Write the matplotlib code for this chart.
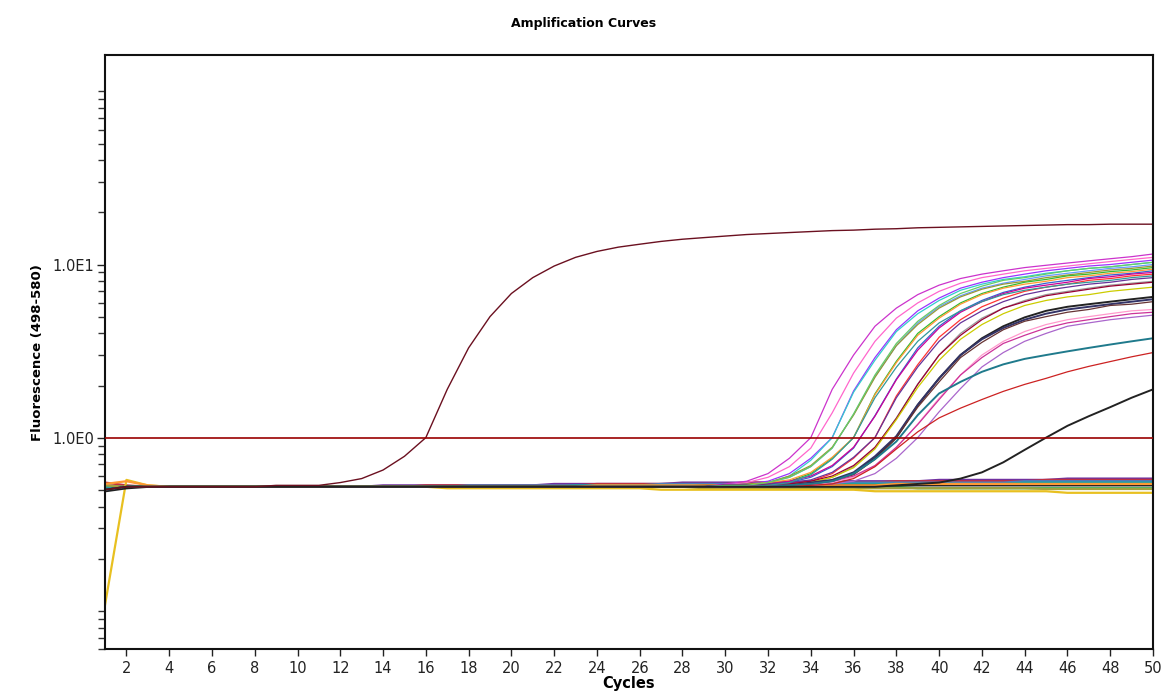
import matplotlib
matplotlib.use("Agg")
import matplotlib.pyplot as plt
from matplotlib.ticker import FixedLocator, FixedFormatter, NullFormatter

# cycle numbers
cycles = list(range(1, 51))

# shared flat baseline (cycles 1-29) of the positive samples
base_early = [0.50, 0.52, 0.52, 0.52, 0.52, 0.52, 0.52, 0.52, 0.52, 0.52,
              0.52, 0.52, 0.52, 0.52, 0.52, 0.52, 0.52, 0.52, 0.52, 0.52,
              0.52, 0.52, 0.52, 0.52, 0.52, 0.52, 0.52, 0.52, 0.52]

# positive samples, cycles 30-50
pos_a = [0.54, 0.56, 0.62, 0.76, 1.0, 1.9, 3.0, 4.4, 5.6, 6.7, 7.6, 8.3, 8.8, 9.2, 9.6, 9.9, 10.2, 10.5, 10.8, 11.1, 11.5]
pos_b = [0.53, 0.55, 0.59, 0.68, 0.87, 1.39, 2.36, 3.6, 4.9, 6.0, 7.0, 7.8, 8.4, 8.8, 9.2, 9.5, 9.8, 10.1, 10.4, 10.7, 11.0]
pos_c = [0.53, 0.54, 0.56, 0.62, 0.76, 1.0, 1.86, 2.9, 4.2, 5.4, 6.4, 7.3, 7.9, 8.4, 8.8, 9.2, 9.5, 9.8, 10.0, 10.3, 10.6]
pos_d = [0.52, 0.53, 0.55, 0.60, 0.74, 1.0, 1.83, 2.8, 4.1, 5.2, 6.2, 7.1, 7.7, 8.2, 8.5, 8.9, 9.2, 9.5, 9.7, 10.0, 10.3]
pos_e = [0.52, 0.53, 0.55, 0.59, 0.68, 0.87, 1.36, 2.26, 3.4, 4.6, 5.7, 6.6, 7.3, 7.8, 8.2, 8.6, 8.9, 9.2, 9.5, 9.7, 10.0]
pos_f = [0.53, 0.54, 0.55, 0.60, 0.69, 0.88, 1.35, 2.23, 3.4, 4.5, 5.6, 6.5, 7.2, 7.7, 8.0, 8.4, 8.7, 9.0, 9.3, 9.5, 9.8]
pos_g = [0.52, 0.53, 0.54, 0.56, 0.62, 0.76, 1.0, 1.79, 2.76, 4.0, 5.0, 6.0, 6.8, 7.4, 7.9, 8.2, 8.6, 8.8, 9.1, 9.3, 9.6]
pos_h = [0.53, 0.53, 0.55, 0.57, 0.63, 0.77, 1.0, 1.77, 2.71, 3.9, 4.9, 5.9, 6.7, 7.3, 7.7, 8.0, 8.4, 8.6, 8.9, 9.1, 9.4]
pos_i = [0.52, 0.52, 0.53, 0.55, 0.59, 0.68, 0.87, 1.34, 2.18, 3.3, 4.4, 5.4, 6.2, 6.9, 7.4, 7.8, 8.1, 8.4, 8.7, 8.9, 9.2]
pos_j = [0.53, 0.53, 0.54, 0.56, 0.60, 0.69, 0.88, 1.33, 2.16, 3.2, 4.3, 5.3, 6.1, 6.8, 7.3, 7.6, 7.9, 8.3, 8.5, 8.8, 9.0]
pos_k = [0.52, 0.52, 0.53, 0.54, 0.56, 0.62, 0.76, 1.0, 1.74, 2.64, 3.8, 4.8, 5.7, 6.4, 7.0, 7.4, 7.7, 8.1, 8.3, 8.6, 8.8]
pos_l = [0.53, 0.53, 0.54, 0.55, 0.57, 0.63, 0.77, 1.0, 1.70, 2.56, 3.6, 4.6, 5.4, 6.1, 6.7, 7.1, 7.4, 7.7, 7.9, 8.2, 8.4]
pos_m = [0.52, 0.52, 0.52, 0.53, 0.55, 0.59, 0.68, 0.87, 1.3, 2.04, 3.0, 4.0, 4.9, 5.6, 6.2, 6.7, 7.0, 7.3, 7.6, 7.8, 8.0]
pos_n = [0.53, 0.53, 0.53, 0.54, 0.56, 0.60, 0.69, 0.88, 1.29, 2.03, 3.0, 3.9, 4.8, 5.6, 6.1, 6.6, 6.9, 7.2, 7.5, 7.7, 7.9]
pos_o = [0.52, 0.52, 0.53, 0.53, 0.55, 0.59, 0.67, 0.86, 1.27, 1.95, 2.8, 3.7, 4.5, 5.2, 5.8, 6.2, 6.5, 6.7, 7.0, 7.2, 7.4]
pos_p = [0.52, 0.52, 0.52, 0.53, 0.54, 0.56, 0.62, 0.76, 1.0, 1.54, 2.2, 3.0, 3.75, 4.4, 4.95, 5.4, 5.7, 5.9, 6.1, 6.3, 6.5]
pos_q = [0.53, 0.53, 0.53, 0.53, 0.55, 0.57, 0.63, 0.78, 1.02, 1.55, 2.2, 3.0, 3.7, 4.3, 4.8, 5.2, 5.5, 5.7, 5.9, 6.1, 6.3]
pos_r = [0.52, 0.52, 0.52, 0.52, 0.54, 0.56, 0.61, 0.75, 1.0, 1.5, 2.1, 2.9, 3.55, 4.2, 4.7, 5.0, 5.3, 5.5, 5.8, 5.9, 6.1]
pos_s = [0.52, 0.52, 0.52, 0.52, 0.53, 0.55, 0.59, 0.68, 0.87, 1.2, 1.69, 2.3, 3.0, 3.6, 4.1, 4.5, 4.8, 5.0, 5.2, 5.4, 5.5]
pos_t = [0.53, 0.53, 0.53, 0.53, 0.54, 0.56, 0.60, 0.69, 0.88, 1.19, 1.66, 2.3, 2.9, 3.5, 3.9, 4.3, 4.6, 4.8, 5.0, 5.2, 5.3]
pos_u = [0.52, 0.52, 0.52, 0.52, 0.53, 0.54, 0.56, 0.62, 0.76, 1.0, 1.41, 1.92, 2.56, 3.1, 3.6, 4.0, 4.4, 4.6, 4.8, 4.95, 5.1]
pos_v = [0.52, 0.52, 0.53, 0.55, 0.61, 0.75, 1.0, 1.7, 2.55, 3.6, 4.6, 5.4, 6.1, 6.7, 7.1, 7.4, 7.7, 7.9, 8.1, 8.4, 8.6]
pos_w = [0.53, 0.53, 0.55, 0.59, 0.68, 0.87, 1.37, 2.3, 3.5, 4.7, 5.8, 6.8, 7.5, 8.1, 8.4, 8.8, 9.2, 9.5, 9.7, 10.0, 10.3]
pos_x = [0.52, 0.52, 0.52, 0.53, 0.54, 0.56, 0.62, 0.75, 0.95, 1.35, 1.8, 2.1, 2.4, 2.65, 2.85, 3.0, 3.15, 3.3, 3.45, 3.6, 3.75]
pos_y = [0.52, 0.52, 0.52, 0.52, 0.53, 0.54, 0.58, 0.68, 0.86, 1.08, 1.3, 1.48, 1.66, 1.85, 2.03, 2.2, 2.4, 2.58, 2.75, 2.93, 3.1]
pos_z = [0.52, 0.52, 0.52, 0.52, 0.52, 0.52, 0.52, 0.52, 0.53, 0.54, 0.55, 0.58, 0.63, 0.72, 0.85, 1.0, 1.17, 1.33, 1.5, 1.7, 1.9]

pos_colors = ['#cc33cc', '#ff66cc', '#9933ff', '#33cccc', '#6699ff', '#999933', '#33bb33',
              '#ff9933', '#3366cc', '#cc0099', '#ff3333', '#663399', '#999999', '#990033',
              '#cccc00', '#222222', '#333366', '#663333', '#ff99cc', '#cc3399', '#aa66cc',
              '#339999', '#66cc66', '#1f7a8c', '#cc2222', '#222222']

# early strong positive, cycles 1-50
early = [0.50, 0.52, 0.52, 0.52, 0.52, 0.52, 0.52, 0.52, 0.53, 0.53,
         0.53, 0.55, 0.58, 0.65, 0.78, 1.0, 1.9, 3.3, 5.0, 6.8,
         8.4, 9.8, 11.0, 11.9, 12.6, 13.1, 13.6, 14.0, 14.3, 14.6,
         14.9, 15.1, 15.3, 15.5, 15.7, 15.8, 16.0, 16.1, 16.3, 16.4,
         16.5, 16.6, 16.7, 16.8, 16.9, 17.0, 17.0, 17.1, 17.1, 17.1]

# negatives, cycles 1-50
neg_purple = [0.53, 0.52, 0.52, 0.52, 0.52, 0.52, 0.52, 0.52, 0.52, 0.52,
              0.52, 0.52, 0.52, 0.53, 0.53, 0.53, 0.53, 0.53, 0.53, 0.53,
              0.53, 0.54, 0.54, 0.54, 0.54, 0.54, 0.54, 0.55, 0.55, 0.55,
              0.55, 0.55, 0.55, 0.56, 0.56, 0.56, 0.56, 0.56, 0.56, 0.57,
              0.57, 0.57, 0.57, 0.57, 0.57, 0.58, 0.58, 0.58, 0.58, 0.58]
neg_red = [0.55, 0.53, 0.52, 0.52, 0.52, 0.52, 0.52, 0.52, 0.52, 0.52,
           0.52, 0.52, 0.52, 0.52, 0.52, 0.53, 0.53, 0.53, 0.53, 0.53,
           0.53, 0.53, 0.53, 0.54, 0.54, 0.54, 0.54, 0.54, 0.54, 0.54,
           0.55, 0.55, 0.55, 0.55, 0.55, 0.55, 0.55, 0.56, 0.56, 0.56,
           0.56, 0.56, 0.56, 0.56, 0.57, 0.57, 0.57, 0.57, 0.57, 0.57]
neg_blue = [0.51, 0.52, 0.52, 0.52, 0.52, 0.52, 0.52, 0.52, 0.52, 0.52,
            0.52, 0.52, 0.52, 0.52, 0.52, 0.52, 0.52, 0.53, 0.53, 0.53,
            0.53, 0.53, 0.53, 0.53, 0.53, 0.53, 0.54, 0.54, 0.54, 0.54,
            0.54, 0.54, 0.54, 0.54, 0.55, 0.55, 0.55, 0.55, 0.55, 0.55,
            0.55, 0.55, 0.55, 0.56, 0.56, 0.56, 0.56, 0.56, 0.56, 0.56]
neg_teal = [0.52, 0.52, 0.52, 0.52, 0.52, 0.52, 0.52, 0.52, 0.52, 0.52,
            0.52, 0.52, 0.52, 0.52, 0.52, 0.52, 0.52, 0.52, 0.52, 0.52,
            0.52, 0.52, 0.53, 0.53, 0.53, 0.53, 0.53, 0.53, 0.53, 0.53,
            0.53, 0.53, 0.54, 0.54, 0.54, 0.54, 0.54, 0.54, 0.54, 0.54,
            0.54, 0.54, 0.54, 0.55, 0.55, 0.55, 0.55, 0.55, 0.55, 0.55]
neg_green = [0.50, 0.52, 0.52, 0.52, 0.52, 0.52, 0.52, 0.52, 0.52, 0.52,
             0.52, 0.52, 0.52, 0.52, 0.52, 0.52, 0.52, 0.52, 0.52, 0.52,
             0.52, 0.52, 0.52, 0.52, 0.52, 0.52, 0.52, 0.52, 0.52, 0.52,
             0.52, 0.52, 0.52, 0.52, 0.52, 0.52, 0.52, 0.52, 0.51, 0.51,
             0.51, 0.51, 0.51, 0.51, 0.51, 0.51, 0.51, 0.51, 0.51, 0.51]
neg_olive = [0.53, 0.52, 0.52, 0.52, 0.52, 0.52, 0.52, 0.52, 0.52, 0.52,
             0.52, 0.52, 0.52, 0.52, 0.52, 0.52, 0.52, 0.52, 0.52, 0.52,
             0.52, 0.52, 0.52, 0.52, 0.52, 0.52, 0.52, 0.52, 0.51, 0.51,
             0.51, 0.51, 0.51, 0.51, 0.51, 0.51, 0.51, 0.51, 0.51, 0.51,
             0.51, 0.51, 0.51, 0.51, 0.505, 0.505, 0.505, 0.505, 0.505, 0.505]
neg_yellow = [0.108, 0.57, 0.53, 0.52, 0.52, 0.52, 0.52, 0.52, 0.52, 0.52,
              0.52, 0.52, 0.52, 0.52, 0.52, 0.52, 0.51, 0.51, 0.51, 0.51,
              0.51, 0.51, 0.51, 0.51, 0.51, 0.51, 0.50, 0.50, 0.50, 0.50,
              0.50, 0.50, 0.50, 0.50, 0.50, 0.50, 0.49, 0.49, 0.49, 0.49,
              0.49, 0.49, 0.49, 0.49, 0.49, 0.48, 0.48, 0.48, 0.48, 0.48]
neg_black = [0.49, 0.51, 0.52, 0.52, 0.52, 0.52, 0.52, 0.52, 0.52, 0.52,
             0.52, 0.52, 0.52, 0.52, 0.52, 0.52, 0.52, 0.52, 0.52, 0.52,
             0.52, 0.52, 0.52, 0.52, 0.52, 0.52, 0.52, 0.52, 0.53, 0.53,
             0.53, 0.53, 0.53, 0.53, 0.53, 0.53, 0.53, 0.53, 0.53, 0.53,
             0.53, 0.53, 0.53, 0.53, 0.53, 0.53, 0.53, 0.53, 0.53, 0.53]
neg_orange = [0.54, 0.56, 0.53, 0.52, 0.52, 0.52, 0.52, 0.52, 0.52, 0.52,
              0.52, 0.52, 0.52, 0.52, 0.52, 0.52, 0.52, 0.52, 0.52, 0.52,
              0.52, 0.52, 0.52, 0.53, 0.53, 0.53, 0.53, 0.53, 0.53, 0.53,
              0.53, 0.53, 0.53, 0.53, 0.53, 0.53, 0.53, 0.54, 0.54, 0.54,
              0.54, 0.54, 0.54, 0.54, 0.54, 0.54, 0.54, 0.54, 0.54, 0.54]
neg_colors = ['#7030a0', '#c03040', '#4a7fc0', '#20a0a0', '#30b050', '#a0a040',
              '#e8c020', '#202020', '#ff9933']

threshold = 1.0

positives = [pos_a, pos_b, pos_c, pos_d, pos_e, pos_f, pos_g, pos_h, pos_i, pos_j,
             pos_k, pos_l, pos_m, pos_n, pos_o, pos_p, pos_q, pos_r, pos_s, pos_t,
             pos_u, pos_v, pos_w, pos_x, pos_y, pos_z]
negatives = [neg_purple, neg_red, neg_blue, neg_teal, neg_green, neg_olive,
             neg_yellow, neg_black, neg_orange]

fig = plt.figure(figsize=(11.67, 6.98), dpi=100)
ax = fig.add_axes([0.09, 0.070, 0.898, 0.851])

for vals, col in zip(negatives, neg_colors):
    ax.plot(cycles, vals, color=col, lw=1.6)

thick = {'#222222', '#333366', '#1f7a8c'}
for vals, col in zip(positives, pos_colors):
    full = base_early + vals
    ax.plot(cycles, full, color=col, lw=1.4 if col in thick else 0.9)

ax.plot(cycles, early, color='#6b1020', lw=1.0)
ax.axhline(threshold, color='#990000', lw=1.2, zorder=5)

ax.set_yscale('log')
ax.set_xlim(1, 50)
ax.set_ylim(0.06, 162)

ax.xaxis.set_major_locator(FixedLocator(list(range(2, 51, 2))))
ax.yaxis.set_major_locator(FixedLocator([1, 10]))
ax.yaxis.set_major_formatter(FixedFormatter(['1.0E0', '1.0E1']))
minors = [k * 10.0 ** e for e in (-2, -1, 0, 1, 2) for k in range(1, 10)]
minors = [m for m in minors if m not in (1.0, 10.0)]
ax.yaxis.set_minor_locator(FixedLocator(minors))
ax.yaxis.set_minor_formatter(NullFormatter())

ax.tick_params(axis='both', which='major', length=5, width=1, direction='out',
               labelsize=10.5, colors='#222222')
ax.tick_params(axis='y', which='minor', length=5, width=1, direction='out', colors='#333333')
ax.tick_params(axis='y', which='major', length=6, pad=2)
for sp in ax.spines.values():
    sp.set_linewidth(1.5)
    sp.set_color('#111111')

ax.set_xlabel('Cycles', fontsize=10.5, fontweight='bold', labelpad=0)
ax.set_ylabel('Fluorescence (498-580)', fontsize=9.5, fontweight='bold', labelpad=6)
fig.text(0.5, 0.966, 'Amplification Curves', ha='center', va='center',
         fontsize=9, fontweight='bold')

fig.savefig('out.png', dpi=100, facecolor='white')
